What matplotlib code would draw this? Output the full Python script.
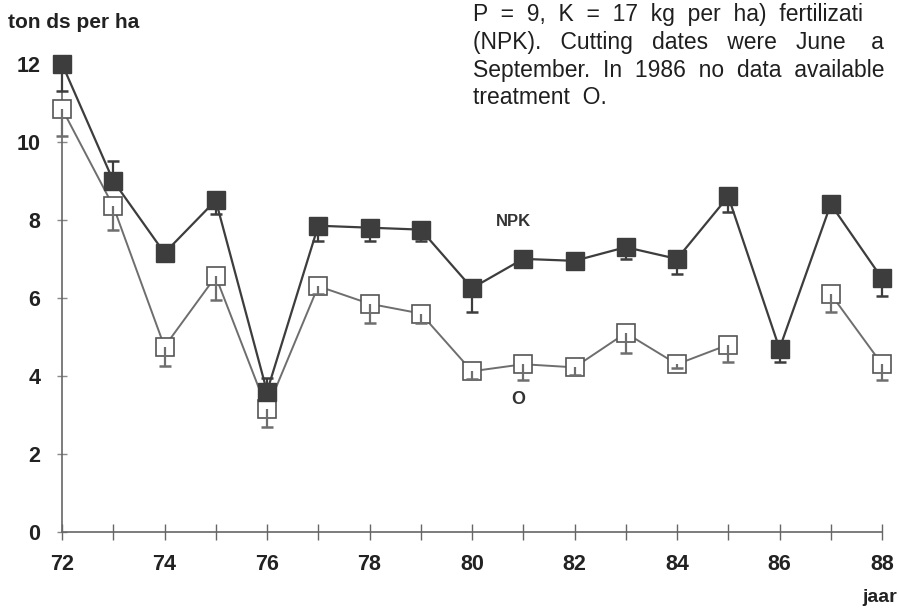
import numpy as np
import matplotlib.pyplot as plt

plt.rcParams['font.family'] = ['Liberation Sans', 'DejaVu Sans']

## Data
jaren = [72, 73, 74, 75, 76, 77, 78, 79, 80, 81, 82, 83, 84, 85, 86, 87, 88]

npk = [12.0, 9.0, 7.15, 8.5, 3.6, 7.85, 7.8, 7.75, 6.25, 7.0, 6.95, 7.3, 7.0, 8.6, 4.7, 8.4, 6.5]
npk_err_onder = [0.7, 0.0, 0.0, 0.35, 0.0, 0.4, 0.35, 0.3, 0.6, 0.0, 0.0, 0.3, 0.4, 0.4, 0.35, 0.0, 0.45]
npk_err_boven = [0.0, 0.5, 0.0, 0.0, 0.35, 0.0, 0.0, 0.0, 0.0, 0.0, 0.0, 0.0, 0.0, 0.0, 0.0, 0.0, 0.0]

nul = [10.85, 8.35, 4.75, 6.55, 3.15, 6.3, 5.85, 5.6, 4.12, 4.3, 4.22, 5.1, 4.3, 4.8, np.nan, 6.1, 4.3]
nul_err_onder = [0.7, 0.6, 0.5, 0.6, 0.45, 0.2, 0.5, 0.25, 0.2, 0.4, 0.2, 0.5, 0.1, 0.45, 0.0, 0.45, 0.4]

x_ticks = [72, 74, 76, 78, 80, 82, 84, 86, 88]
y_ticks = [0, 2, 4, 6, 8, 10, 12]

# tekst zoals zichtbaar op de (afgesneden) scan
tekst_regels = [
    "P  =  9,  K  =  17  kg  per  ha)  fertilizati",
    "(NPK).   Cutting   dates   were   June    a",
    "September.  In  1986  no  data  available",
    "treatment  O.",
]

donker = "#3d3d3d"
licht = "#6e6e6e"


def foutbalk(ax, x, y, err, richting, kleur, z):
    # één-zijdige foutbalk: lijn plus dop aan het uiteinde
    x = np.array(x, dtype=float)
    y = np.array(y, dtype=float)
    err = np.array(err, dtype=float)
    ok = (err > 0) & ~np.isnan(y)
    eind = y[ok] + richting * err[ok]
    ax.vlines(x[ok], y[ok], eind, colors=kleur, linewidth=1.6, zorder=z, clip_on=False)
    ax.plot(x[ok], eind, linestyle="none", marker="_", markersize=9, markeredgewidth=1.8,
            color=kleur, zorder=z, clip_on=False)


fig = plt.figure(figsize=(8.99, 6.09), dpi=100)
ax = fig.add_axes([62 / 899, 77 / 609, 820 / 899, 476 / 609])

# Behandeling O
ax.plot(jaren, nul, color=licht, linewidth=1.4, marker="s", markersize=13.5,
        markerfacecolor="white", markeredgecolor="#555555", markeredgewidth=1.2,
        zorder=3, clip_on=False)
foutbalk(ax, jaren, nul, nul_err_onder, -1, licht, 4)

# Behandeling NPK
ax.plot(jaren, npk, color=donker, linewidth=1.6, marker="s", markersize=13.5,
        markerfacecolor=donker, markeredgecolor=donker, zorder=6, clip_on=False)
foutbalk(ax, jaren, npk, npk_err_onder, -1, donker, 5)
foutbalk(ax, jaren, npk, npk_err_boven, 1, donker, 5)

ax.set_xlim(72, 88)
ax.set_ylim(0, 12.2)
ax.set_xticks(x_ticks)
ax.set_xticks(jaren, minor=True)
ax.set_yticks(y_ticks)

for s in ["top", "right"]:
    ax.spines[s].set_visible(False)
for s in ["left", "bottom"]:
    ax.spines[s].set_color("#666666")
    ax.spines[s].set_linewidth(1.2)

ax.tick_params(axis="x", which="both", direction="inout", length=12, width=1, color="#666666")
ax.tick_params(axis="x", which="major", pad=10, labelsize=15.5)
ax.tick_params(axis="y", direction="inout", length=7, width=1, color="#888888", pad=12, labelsize=15.5)
for lab in ax.get_xticklabels() + ax.get_yticklabels():
    lab.set_fontweight("bold")
    lab.set_color("#222222")

ax.text(80.8, 7.95, "NPK", fontsize=12, fontweight="bold", color="#333333", ha="center", va="center")
ax.text(80.9, 3.4, "O", fontsize=13, fontweight="bold", color="#333333", ha="center", va="center")

fig.text(8 / 899, 1 - 22 / 609, "ton ds per ha", fontsize=15, fontweight="bold",
         color="#222222", ha="left", va="center")
fig.text(1 - 2 / 899, 1 - 598 / 609, "jaar", fontsize=14, fontweight="bold",
         color="#222222", ha="right", va="center")

regel_y = [14, 42, 70, 97]
for regel, y in zip(tekst_regels, regel_y):
    fig.text(473 / 899, 1 - y / 609, regel, fontsize=16.5, color="#1f1f1f",
             ha="left", va="center")

fig.savefig("out.png", dpi=100)
